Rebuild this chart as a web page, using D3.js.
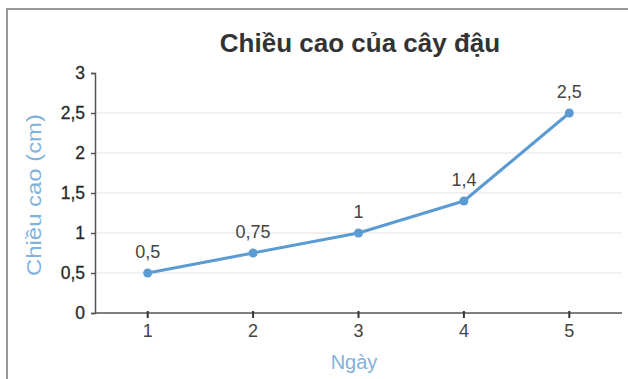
<!DOCTYPE html>
<html><head><meta charset="utf-8">
<script src="https://cdn.jsdelivr.net/npm/d3@7"></script>
<style>
html,body{margin:0;padding:0;background:#fff;}
text{font-family:"Liberation Sans",Arial,sans-serif;}
</style></head>
<body>
<svg id="chart" width="628" height="379"></svg>
<script>
const days = ["1","2","3","4","5"];
const heights = [0.5, 0.75, 1, 1.4, 2.5];
const valueLabels = ["0,5","0,75","1","1,4","2,5"];
const yTicks = [0, 0.5, 1, 1.5, 2, 2.5, 3];
const yTickLabels = ["0","0,5","1","1,5","2","2,5","3"];
const title = "Chiều cao của cây đậu";
const xTitle = "Ngày";
const yTitle = "Chiều cao (cm)";

const svg = d3.select("#chart");
const W = 628, H = 379;
const m = {left: 95, right: 6, top: 73, bottom: 66};

// outer frame (clipped at right/bottom)
svg.append("rect").attr("x", 7).attr("y", 9).attr("width", 700).attr("height", 500)
  .attr("fill", "none").attr("stroke", "#9a9a9a").attr("stroke-width", 2);

const x = d3.scaleBand().domain(days).range([m.left, W - m.right]);
const y = d3.scaleLinear().domain([0, 3]).range([H - m.bottom, m.top]);
const cx = d => x(d) + x.bandwidth() / 2;

// gridlines
svg.append("g").selectAll("line").data(yTicks.filter(t => t > 0 && t < 3)).join("line")
  .attr("x1", m.left).attr("x2", W - m.right)
  .attr("y1", d => y(d)).attr("y2", d => y(d))
  .attr("stroke", "#e3e3e3").attr("stroke-width", 1.2);

// y axis
const yAxis = d3.axisLeft(y).tickValues(yTicks).tickSize(4).tickPadding(6)
  .tickFormat((d, i) => yTickLabels[i]);
const gy = svg.append("g").attr("transform", `translate(${m.left},0)`).call(yAxis);
gy.select(".domain").attr("stroke", "#555").attr("stroke-width", 1.5);
gy.selectAll(".tick line").attr("stroke", "#555").attr("stroke-width", 1.5);
gy.selectAll(".tick text").attr("fill", "#2a2a2a").attr("font-size", 17.5)
  .attr("font-family", "Liberation Sans, Arial, sans-serif")
  .attr("stroke", "#2a2a2a").attr("stroke-width", 0.3);

// x axis
const xAxis = d3.axisBottom(x).tickSize(5).tickPadding(6);
const gx = svg.append("g").attr("transform", `translate(0,${y(0)})`).call(xAxis);
gx.select(".domain").attr("stroke", "#555").attr("stroke-width", 1.5)
  .attr("d", `M${m.left},0H${W - m.right}`);
gx.selectAll(".tick line").attr("stroke", "#333").attr("stroke-width", 2).attr("y1", -2);
gx.selectAll(".tick text").attr("fill", "#444").attr("font-size", 18)
  .attr("font-family", "Liberation Sans, Arial, sans-serif");

// line
const line = d3.line().x((d, i) => cx(days[i])).y(d => y(d));
svg.append("path").datum(heights).attr("d", line)
  .attr("fill", "none").attr("stroke", "#5a9bd3").attr("stroke-width", 3)
  .attr("stroke-linejoin", "round");

svg.append("g").selectAll("circle").data(heights).join("circle")
  .attr("cx", (d, i) => cx(days[i])).attr("cy", d => y(d)).attr("r", 4.5)
  .attr("fill", "#5a9bd3");

// value labels
svg.append("g").selectAll("text").data(heights).join("text")
  .attr("x", (d, i) => cx(days[i])).attr("y", d => y(d) - 15)
  .attr("text-anchor", "middle").attr("font-size", 18).attr("fill", "#444")
  .text((d, i) => valueLabels[i]);

// title
svg.append("text").attr("x", 360).attr("y", 52).attr("text-anchor", "middle")
  .attr("font-size", 26).attr("font-weight", "bold").attr("fill", "#333")
  .text(title);

// axis titles
svg.append("text").attr("x", 354).attr("y", 369).attr("text-anchor", "middle")
  .attr("font-size", 20).attr("fill", "#7fb2dc").text(xTitle);

svg.append("text").attr("transform", "translate(41,195) rotate(-90)")
  .attr("text-anchor", "middle").attr("font-size", 20.5).attr("fill", "#7fb2dc")
  .attr("textLength", 162).attr("lengthAdjust", "spacingAndGlyphs")
  .text(yTitle);
</script>
</body></html>
